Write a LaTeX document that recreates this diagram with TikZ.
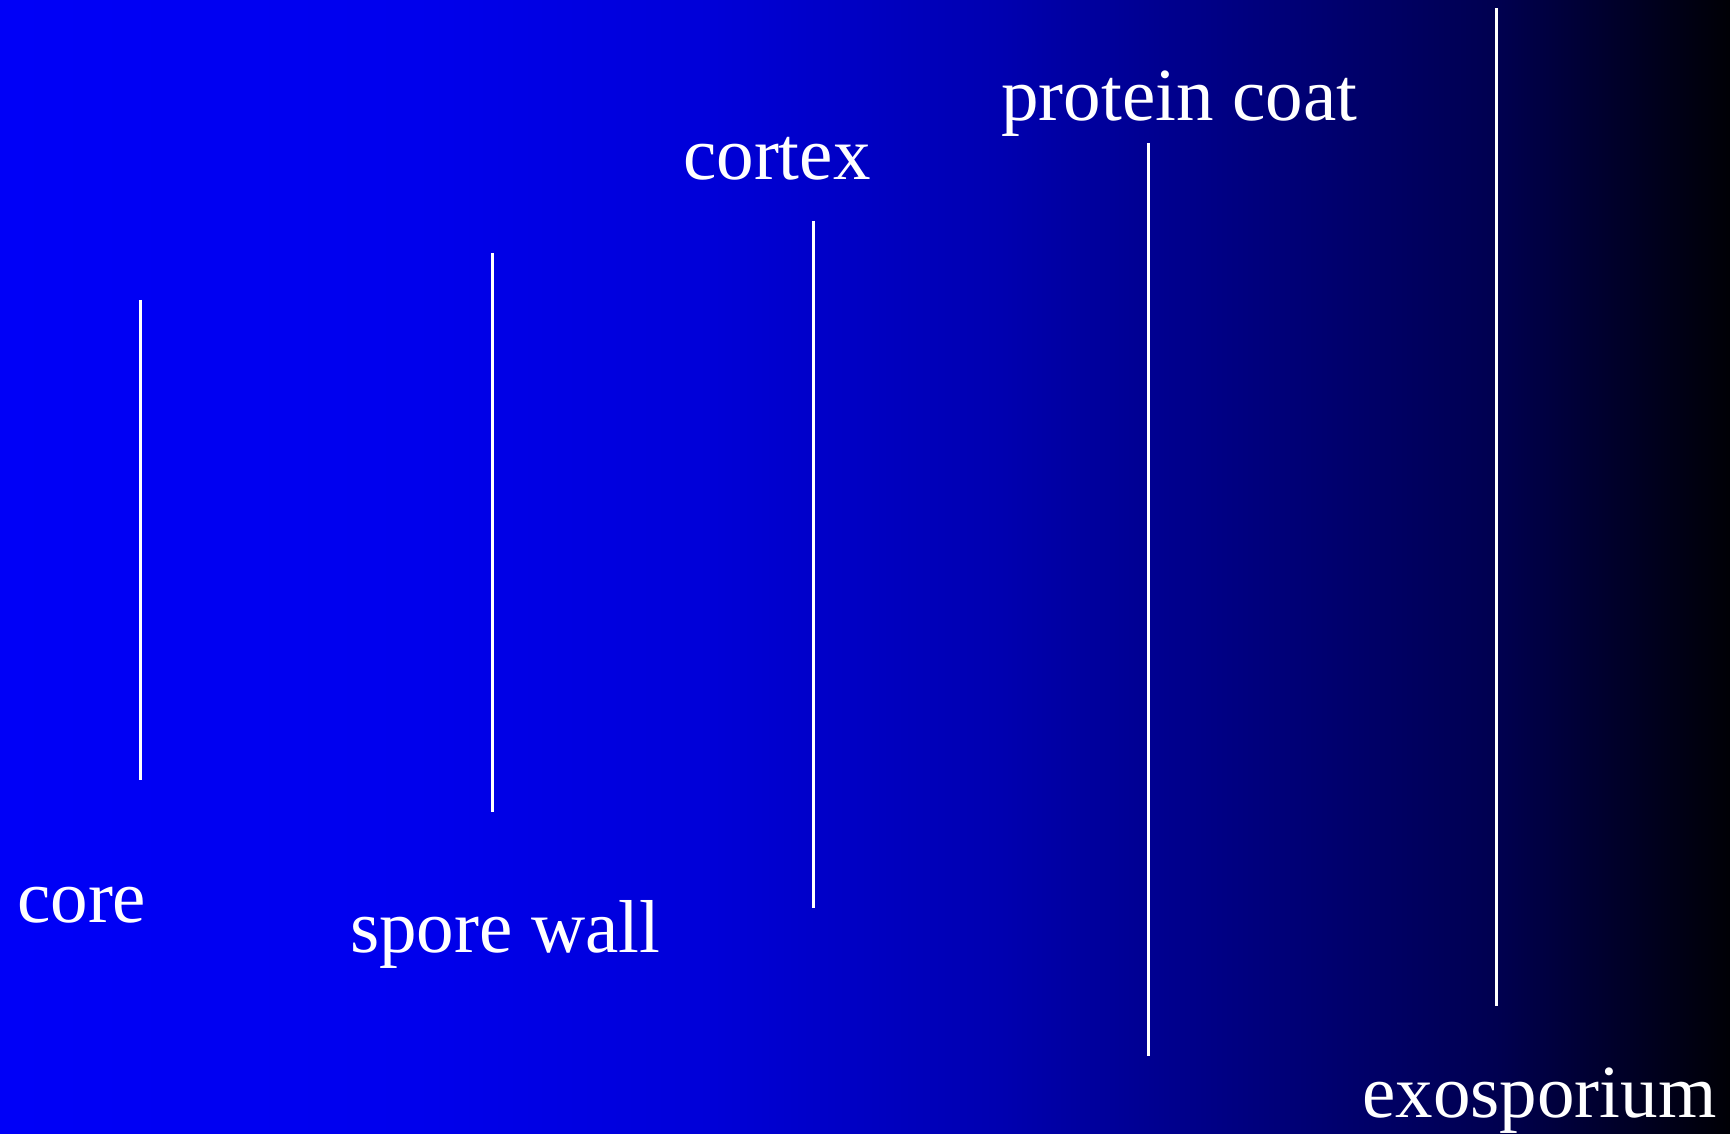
\documentclass[tikz,border=0pt]{standalone}
\usepackage{fontspec}
\setmainfont{Liberation Serif}
% TikZ maps a path onto the 25bp--75bp part of a shading
\pgfdeclarehorizontalshading{sporebg}{100bp}{
  rgb(0bp)=(0,0,0.97);
  rgb(25bp)=(0,0,0.97);
  rgb(36.55bp)=(0,0,0.93);
  rgb(45.25bp)=(0,0,0.85);
  rgb(53.9bp)=(0,0,0.69);
  rgb(58.2bp)=(0,0,0.57);
  rgb(64bp)=(0,0,0.42);
  rgb(68.35bp)=(0,0,0.31);
  rgb(75bp)=(0,0,0.02);
  rgb(100bp)=(0,0,0.02)}
\begin{document}
\begin{tikzpicture}[x=1pt,y=1pt,
  lbl/.style={anchor=base west,inner sep=0pt,text=white,font=\fontsize{75}{80}\selectfont},
  layer/.style={draw=white,line width=3pt}]
\useasboundingbox (0,0) rectangle (1730,1133);
\shade[shading=sporebg] (0,0) rectangle (1730,1133);
% labels
\node[lbl] (core) at (17,210) {core};
\node[lbl] (wall) at (350,180) {spore wall};
\node[lbl] (cortex) at (683,953) {cortex};
\node[lbl] (coat) at (1001,1012) {protein coat};
\node[lbl] (exo) at (1362,16) {exosporium};
% layer lines
\coordinate (c1t) at (140.3,833); \coordinate (c1b) at (140.3,353);
\coordinate (c2t) at (492,880);   \coordinate (c2b) at (492,321);
\coordinate (c3t) at (813,912);   \coordinate (c3b) at (813,225);
\coordinate (c4t) at (1148.5,990);\coordinate (c4b) at (1148.5,77.3);
\coordinate (c5t) at (1496,1124.7);\coordinate (c5b) at (1496,127);
\draw[layer] (c1t) -- (c1b);
\draw[layer] (c2t) -- (c2b);
\draw[layer] (c3t) -- (c3b);
\draw[layer] (c4t) -- (c4b);
\draw[layer] (c5t) -- (c5b);
\end{tikzpicture}
\end{document}
